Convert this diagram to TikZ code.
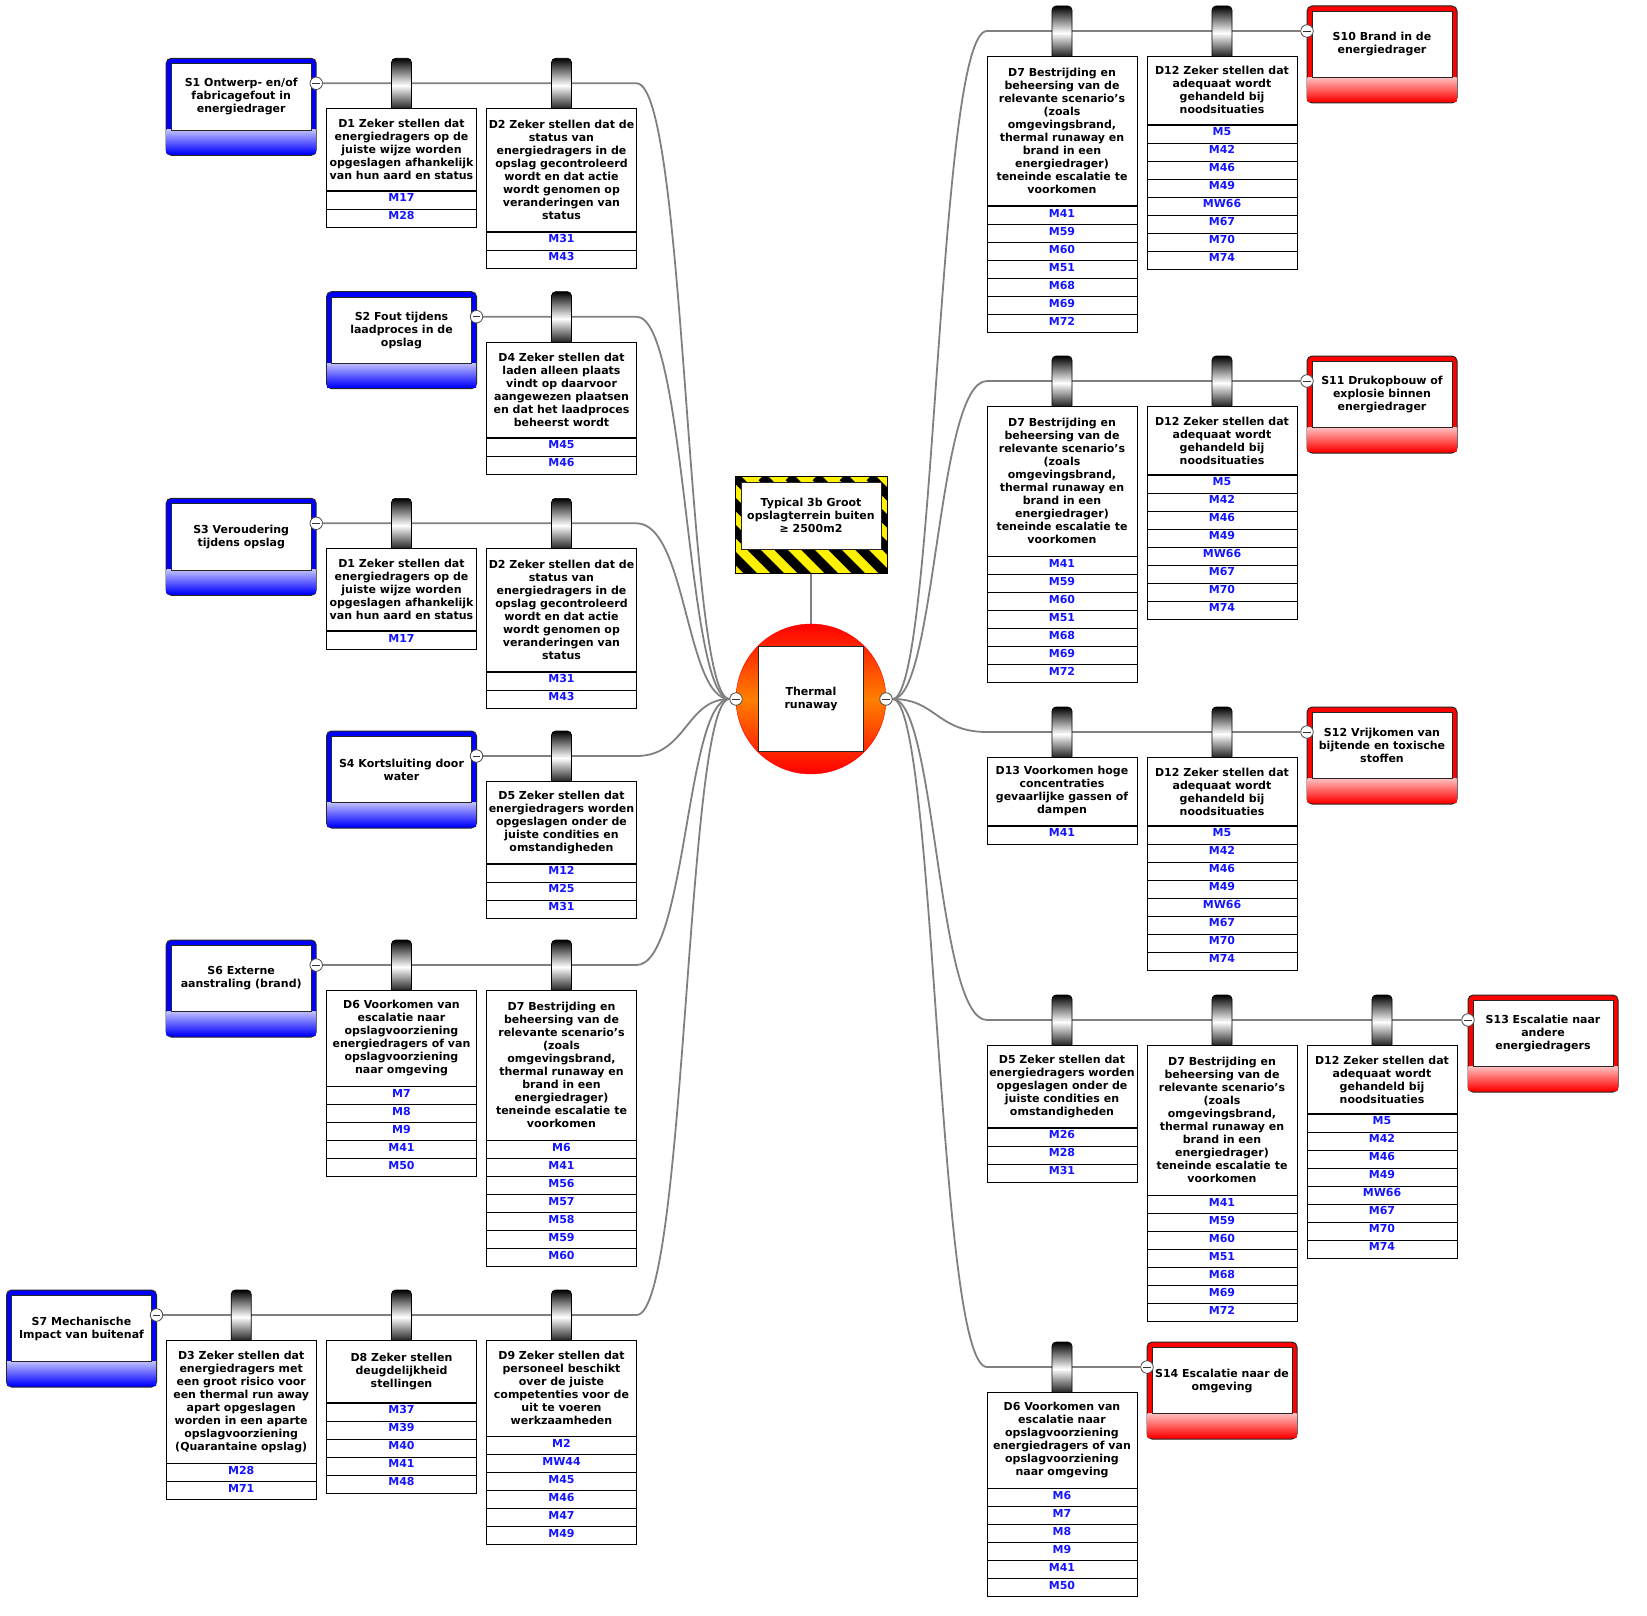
\documentclass[tikz,border=0pt]{standalone}
\usepackage{fontspec}
\setmainfont{DejaVu Sans}
\usetikzlibrary{positioning,backgrounds}
\usepackage{xcolor}
\definecolor{mblue}{RGB}{20,20,255}
\newcommand{\bowfont}{\fontsize{11}{13}\selectfont\bfseries}

\begin{document}
\begin{tikzpicture}[x=1pt,y=-1pt]
      \tikzstyle{conn} = [draw=black!50, line width=1.8pt]
      \tikzstyle{cause} = [rectangle, rounded corners=5pt, draw=black!85, line width=1pt, fill=blue, minimum width=150pt, minimum height=97pt]
      \tikzstyle{conseq} = [rectangle, rounded corners=5pt, draw=black!85, line width=1pt, fill=red, minimum width=150pt, minimum height=97pt]
      \tikzstyle{causefade} = [top color=blue!25, bottom color=blue]
      \tikzstyle{conseqfade} = [top color=red!25, bottom color=red]
      \tikzstyle{stext} = [rectangle, draw=black!85, line width=0.8pt, fill=white, minimum width=140pt, minimum height=66.5pt, inner sep=1pt, align=center, font=\bowfont]
      \tikzstyle{hazard} = [rectangle, draw=black, line width=1pt, fill=yellow, minimum width=152pt, minimum height=97pt, path picture={\foreach \k in {-4,...,6} \draw[black, line width=9.5pt] ([xshift=\k*27pt]path picture bounding box.north west) -- ([xshift=\k*27pt+110pt, yshift=-110pt]path picture bounding box.north west);}]
      \tikzstyle{topevent} = [circle, draw=red, minimum size=150pt, top color=red, bottom color=red, middle color=orange]
      \tikzstyle{tetext} = [rectangle, draw=black!85, line width=0.8pt, fill=white, minimum size=105pt, align=center, font=\bowfont]
      \tikzstyle{minus} = [circle, draw=black!70, fill=white, line width=0.8pt, minimum size=12.5pt, inner sep=0pt, path picture={\draw[black!80, line width=0.8pt] ([xshift=2.5pt]path picture bounding box.west) -- ([xshift=-2.5pt]path picture bounding box.east);}]
      \tikzstyle{clamp} = [rectangle, rounded corners=4pt, draw=black, line width=0.6pt, minimum width=20pt, minimum height=54pt, inner sep=0pt, top color=black, bottom color=black, middle color=white]
      \tikzstyle{dbox} = [rectangle, draw=black, line width=0.8pt, fill=white, minimum width=150pt, inner xsep=0pt, inner ysep=2pt, align=center, anchor=north, font=\bowfont]
      \tikzstyle{mrow} = [rectangle, draw=black, line width=0.8pt, fill=white, minimum width=150pt, inner xsep=0pt, inner ysep=2.5pt, text height=8pt, text depth=5pt, anchor=north, text=mblue, font=\bowfont]

      \useasboundingbox (0,0) rectangle (1647,1616);

      % top event and hazard
      \node[hazard] (hz) at (811,525.3) {};
      \node[stext] (hzt) at (811,515.8) {Typical 3b Groot\\opslagterrein buiten\\≥ 2500m2};
      \node[topevent] (te) at (811,699) {};
      \node[tetext] (tet) at (811,699) {Thermal\\runaway};
      \node[minus] (tl) at (736,699) {};
      \node[minus] (tr) at (886,699) {};

      % S1
      \node[cause] (s1) at (241.2,106.8) {};
      \shade[causefade] ([xshift=1pt,yshift=2pt]s1.south west) rectangle ([xshift=-1pt,yshift=26pt]s1.south east);
      \node[stext] (s1t) at (241.2,96.8) {S1 Ontwerp- en/of\\fabricagefout in\\energiedrager};
      \node[minus] (s1m) at (316.2,83.3) {};
      \node[clamp] (l1d1c) at (401.5,85.3) {};
      \node[dbox, minimum height=82pt] (l1d1) at (401.5,108.3) {D1 Zeker stellen dat\\energiedragers op de\\juiste wijze worden\\opgeslagen afhankelijk\\van hun aard en status};
      \foreach \m [count=\i] in {M17,M28}
        \node[mrow] (l1d1m\i) at ([yshift={-18pt*(\i-1)}]l1d1.south) {\m};
      \node[clamp] (l1d2c) at (561.5,85.3) {};
      \node[dbox, minimum height=122.5pt] (l1d2) at (561.5,108.3) {D2 Zeker stellen dat de\\status van\\energiedragers in de\\opslag gecontroleerd\\wordt en dat actie\\wordt genomen op\\veranderingen van\\status};
      \foreach \m [count=\i] in {M31,M43}
        \node[mrow] (l1d2m\i) at ([yshift={-18pt*(\i-1)}]l1d2.south) {\m};
      \coordinate (l1e) at (636.5,83.3);

      % S2
      \node[cause] (s2) at (401.5,340.2) {};
      \shade[causefade] ([xshift=1pt,yshift=2pt]s2.south west) rectangle ([xshift=-1pt,yshift=26pt]s2.south east);
      \node[stext] (s2t) at (401.5,330.2) {S2 Fout tijdens\\laadproces in de\\opslag};
      \node[minus] (s2m) at (476.5,316.7) {};
      \node[clamp] (l2d4c) at (561.5,318.7) {};
      \node[dbox, minimum height=95.5pt] (l2d4) at (561.5,341.7) {D4 Zeker stellen dat\\laden alleen plaats\\vindt op daarvoor\\aangewezen plaatsen\\en dat het laadproces\\beheerst wordt};
      \foreach \m [count=\i] in {M45,M46}
        \node[mrow] (l2d4m\i) at ([yshift={-18pt*(\i-1)}]l2d4.south) {\m};
      \coordinate (l2e) at (636.5,316.7);

      % S3
      \node[cause] (s3) at (241.2,546.8) {};
      \shade[causefade] ([xshift=1pt,yshift=2pt]s3.south west) rectangle ([xshift=-1pt,yshift=26pt]s3.south east);
      \node[stext] (s3t) at (241.2,536.8) {S3 Veroudering\\tijdens opslag};
      \node[minus] (s3m) at (316.2,523.3) {};
      \node[clamp] (l3d1c) at (401.5,525.3) {};
      \node[dbox, minimum height=82pt] (l3d1) at (401.5,548.3) {D1 Zeker stellen dat\\energiedragers op de\\juiste wijze worden\\opgeslagen afhankelijk\\van hun aard en status};
      \foreach \m [count=\i] in {M17}
        \node[mrow] (l3d1m\i) at ([yshift={-18pt*(\i-1)}]l3d1.south) {\m};
      \node[clamp] (l3d2c) at (561.5,525.3) {};
      \node[dbox, minimum height=122.5pt] (l3d2) at (561.5,548.3) {D2 Zeker stellen dat de\\status van\\energiedragers in de\\opslag gecontroleerd\\wordt en dat actie\\wordt genomen op\\veranderingen van\\status};
      \foreach \m [count=\i] in {M31,M43}
        \node[mrow] (l3d2m\i) at ([yshift={-18pt*(\i-1)}]l3d2.south) {\m};
      \coordinate (l3e) at (636.5,523.3);

      % S4
      \node[cause] (s4) at (401.5,779.5) {};
      \shade[causefade] ([xshift=1pt,yshift=2pt]s4.south west) rectangle ([xshift=-1pt,yshift=26pt]s4.south east);
      \node[stext] (s4t) at (401.5,769.5) {S4 Kortsluiting door\\water};
      \node[minus] (s4m) at (476.5,756) {};
      \node[clamp] (l4d5c) at (561.5,758) {};
      \node[dbox, minimum height=82pt] (l4d5) at (561.5,781) {D5 Zeker stellen dat\\energiedragers worden\\opgeslagen onder de\\juiste condities en\\omstandigheden};
      \foreach \m [count=\i] in {M12,M25,M31}
        \node[mrow] (l4d5m\i) at ([yshift={-18pt*(\i-1)}]l4d5.south) {\m};
      \coordinate (l4e) at (636.5,756);

      % S6
      \node[cause] (s6) at (241.2,988.5) {};
      \shade[causefade] ([xshift=1pt,yshift=2pt]s6.south west) rectangle ([xshift=-1pt,yshift=26pt]s6.south east);
      \node[stext] (s6t) at (241.2,978.5) {S6 Externe\\aanstraling (brand)};
      \node[minus] (s6m) at (316.2,965) {};
      \node[clamp] (l5d6c) at (401.5,967) {};
      \node[dbox, minimum height=95.5pt] (l5d6) at (401.5,990) {D6 Voorkomen van\\escalatie naar\\opslagvoorziening\\energiedragers of van\\opslagvoorziening\\naar omgeving};
      \foreach \m [count=\i] in {M7,M8,M9,M41,M50}
        \node[mrow] (l5d6m\i) at ([yshift={-18pt*(\i-1)}]l5d6.south) {\m};
      \node[clamp] (l5d7c) at (561.5,967) {};
      \node[dbox, minimum height=149.5pt] (l5d7) at (561.5,990) {D7 Bestrijding en\\beheersing van de\\relevante scenario’s\\(zoals\\omgevingsbrand,\\thermal runaway en\\brand in een\\energiedrager)\\teneinde escalatie te\\voorkomen};
      \foreach \m [count=\i] in {M6,M41,M56,M57,M58,M59,M60}
        \node[mrow] (l5d7m\i) at ([yshift={-18pt*(\i-1)}]l5d7.south) {\m};
      \coordinate (l5e) at (636.5,965);

      % S7
      \node[cause] (s7) at (81.5,1338.5) {};
      \shade[causefade] ([xshift=1pt,yshift=2pt]s7.south west) rectangle ([xshift=-1pt,yshift=26pt]s7.south east);
      \node[stext] (s7t) at (81.5,1328.5) {S7 Mechanische\\Impact van buitenaf};
      \node[minus] (s7m) at (156.5,1315) {};
      \node[clamp] (l6d3c) at (241.2,1317) {};
      \node[dbox, minimum height=122.5pt] (l6d3) at (241.2,1340) {D3 Zeker stellen dat\\energiedragers met\\een groot risico voor\\een thermal run away\\apart opgeslagen\\worden in een aparte\\opslagvoorziening\\(Quarantaine opslag)};
      \foreach \m [count=\i] in {M28,M71}
        \node[mrow] (l6d3m\i) at ([yshift={-18pt*(\i-1)}]l6d3.south) {\m};
      \node[clamp] (l6d8c) at (401.5,1317) {};
      \node[dbox, minimum height=62pt] (l6d8) at (401.5,1340) {D8 Zeker stellen\\deugdelijkheid\\stellingen};
      \foreach \m [count=\i] in {M37,M39,M40,M41,M48}
        \node[mrow] (l6d8m\i) at ([yshift={-18pt*(\i-1)}]l6d8.south) {\m};
      \node[clamp] (l6d9c) at (561.5,1317) {};
      \node[dbox, minimum height=95.5pt] (l6d9) at (561.5,1340) {D9 Zeker stellen dat\\personeel beschikt\\over de juiste\\competenties voor de\\uit te voeren\\werkzaamheden};
      \foreach \m [count=\i] in {M2,MW44,M45,M46,M47,M49}
        \node[mrow] (l6d9m\i) at ([yshift={-18pt*(\i-1)}]l6d9.south) {\m};
      \coordinate (l6e) at (636.5,1315);

      % S10
      \node[clamp] (r1d7c) at (1062,33) {};
      \node[dbox, minimum height=149.5pt] (r1d7) at (1062,56) {D7 Bestrijding en\\beheersing van de\\relevante scenario’s\\(zoals\\omgevingsbrand,\\thermal runaway en\\brand in een\\energiedrager)\\teneinde escalatie te\\voorkomen};
      \foreach \m [count=\i] in {M41,M59,M60,M51,M68,M69,M72}
        \node[mrow] (r1d7m\i) at ([yshift={-18pt*(\i-1)}]r1d7.south) {\m};
      \node[clamp] (r1d12c) at (1222,33) {};
      \node[dbox, minimum height=68pt] (r1d12) at (1222,56) {D12 Zeker stellen dat\\adequaat wordt\\gehandeld bij\\noodsituaties};
      \foreach \m [count=\i] in {M5,M42,M46,M49,MW66,M67,M70,M74}
        \node[mrow] (r1d12m\i) at ([yshift={-18pt*(\i-1)}]r1d12.south) {\m};
      \node[conseq] (s10) at (1382,54.5) {};
      \shade[conseqfade] ([xshift=1pt,yshift=2pt]s10.south west) rectangle ([xshift=-1pt,yshift=26pt]s10.south east);
      \node[stext] (s10t) at (1382,44.5) {S10 Brand in de\\energiedrager};
      \node[minus] (s10m) at (1307,31) {};
      \coordinate (r1e) at (987,31);

      % S11
      \node[clamp] (r2d7c) at (1062,383) {};
      \node[dbox, minimum height=149.5pt] (r2d7) at (1062,406) {D7 Bestrijding en\\beheersing van de\\relevante scenario’s\\(zoals\\omgevingsbrand,\\thermal runaway en\\brand in een\\energiedrager)\\teneinde escalatie te\\voorkomen};
      \foreach \m [count=\i] in {M41,M59,M60,M51,M68,M69,M72}
        \node[mrow] (r2d7m\i) at ([yshift={-18pt*(\i-1)}]r2d7.south) {\m};
      \node[clamp] (r2d12c) at (1222,383) {};
      \node[dbox, minimum height=68pt] (r2d12) at (1222,406) {D12 Zeker stellen dat\\adequaat wordt\\gehandeld bij\\noodsituaties};
      \foreach \m [count=\i] in {M5,M42,M46,M49,MW66,M67,M70,M74}
        \node[mrow] (r2d12m\i) at ([yshift={-18pt*(\i-1)}]r2d12.south) {\m};
      \node[conseq] (s11) at (1382,404.5) {};
      \shade[conseqfade] ([xshift=1pt,yshift=2pt]s11.south west) rectangle ([xshift=-1pt,yshift=26pt]s11.south east);
      \node[stext] (s11t) at (1382,394.5) {S11 Drukopbouw of\\explosie binnen\\energiedrager};
      \node[minus] (s11m) at (1307,381) {};
      \coordinate (r2e) at (987,381);

      % S12
      \node[clamp] (r3d13c) at (1062,734) {};
      \node[dbox, minimum height=68pt] (r3d13) at (1062,757) {D13 Voorkomen hoge\\concentraties\\gevaarlijke gassen of\\dampen};
      \foreach \m [count=\i] in {M41}
        \node[mrow] (r3d13m\i) at ([yshift={-18pt*(\i-1)}]r3d13.south) {\m};
      \node[clamp] (r3d12c) at (1222,734) {};
      \node[dbox, minimum height=68pt] (r3d12) at (1222,757) {D12 Zeker stellen dat\\adequaat wordt\\gehandeld bij\\noodsituaties};
      \foreach \m [count=\i] in {M5,M42,M46,M49,MW66,M67,M70,M74}
        \node[mrow] (r3d12m\i) at ([yshift={-18pt*(\i-1)}]r3d12.south) {\m};
      \node[conseq] (s12) at (1382,755.5) {};
      \shade[conseqfade] ([xshift=1pt,yshift=2pt]s12.south west) rectangle ([xshift=-1pt,yshift=26pt]s12.south east);
      \node[stext] (s12t) at (1382,745.5) {S12 Vrijkomen van\\bijtende en toxische\\stoffen};
      \node[minus] (s12m) at (1307,732) {};
      \coordinate (r3e) at (987,732);

      % S13
      \node[clamp] (r4d5c) at (1062,1022) {};
      \node[dbox, minimum height=82pt] (r4d5) at (1062,1045) {D5 Zeker stellen dat\\energiedragers worden\\opgeslagen onder de\\juiste condities en\\omstandigheden};
      \foreach \m [count=\i] in {M26,M28,M31}
        \node[mrow] (r4d5m\i) at ([yshift={-18pt*(\i-1)}]r4d5.south) {\m};
      \node[clamp] (r4d7c) at (1222,1022) {};
      \node[dbox, minimum height=149.5pt] (r4d7) at (1222,1045) {D7 Bestrijding en\\beheersing van de\\relevante scenario’s\\(zoals\\omgevingsbrand,\\thermal runaway en\\brand in een\\energiedrager)\\teneinde escalatie te\\voorkomen};
      \foreach \m [count=\i] in {M41,M59,M60,M51,M68,M69,M72}
        \node[mrow] (r4d7m\i) at ([yshift={-18pt*(\i-1)}]r4d7.south) {\m};
      \node[clamp] (r4d12c) at (1382,1022) {};
      \node[dbox, minimum height=68pt] (r4d12) at (1382,1045) {D12 Zeker stellen dat\\adequaat wordt\\gehandeld bij\\noodsituaties};
      \foreach \m [count=\i] in {M5,M42,M46,M49,MW66,M67,M70,M74}
        \node[mrow] (r4d12m\i) at ([yshift={-18pt*(\i-1)}]r4d12.south) {\m};
      \node[conseq] (s13) at (1543,1043.5) {};
      \shade[conseqfade] ([xshift=1pt,yshift=2pt]s13.south west) rectangle ([xshift=-1pt,yshift=26pt]s13.south east);
      \node[stext] (s13t) at (1543,1033.5) {S13 Escalatie naar\\andere\\energiedragers};
      \node[minus] (s13m) at (1468,1020) {};
      \coordinate (r4e) at (987,1020);

      % S14
      \node[clamp] (r5d6c) at (1062,1369) {};
      \node[dbox, minimum height=95.5pt] (r5d6) at (1062,1392) {D6 Voorkomen van\\escalatie naar\\opslagvoorziening\\energiedragers of van\\opslagvoorziening\\naar omgeving};
      \foreach \m [count=\i] in {M6,M7,M8,M9,M41,M50}
        \node[mrow] (r5d6m\i) at ([yshift={-18pt*(\i-1)}]r5d6.south) {\m};
      \node[conseq] (s14) at (1222,1390.5) {};
      \shade[conseqfade] ([xshift=1pt,yshift=2pt]s14.south west) rectangle ([xshift=-1pt,yshift=26pt]s14.south east);
      \node[stext] (s14t) at (1222,1380.5) {S14 Escalatie naar de\\omgeving};
      \node[minus] (s14m) at (1147,1367) {};
      \coordinate (r5e) at (987,1367);

      % connectors
      \begin{scope}[on background layer]
        \fill[white] (0,0) rectangle (1647,1616);
        \draw[conn] (hz) -- (te);
        \draw[conn] (s1m) -- (l1e) .. controls +(50,0) and +(-50,0) .. (tl);
        \draw[conn] (s2m) -- (l2e) .. controls +(50,0) and +(-50,0) .. (tl);
        \draw[conn] (s3m) -- (l3e) .. controls +(50,0) and +(-50,0) .. (tl);
        \draw[conn] (s4m) -- (l4e) .. controls +(50,0) and +(-50,0) .. (tl);
        \draw[conn] (s6m) -- (l5e) .. controls +(50,0) and +(-50,0) .. (tl);
        \draw[conn] (s7m) -- (l6e) .. controls +(50,0) and +(-50,0) .. (tl);
        \draw[conn] (tr) .. controls +(50,0) and +(-50,0) .. (r1e) -- (s10m);
        \draw[conn] (tr) .. controls +(50,0) and +(-50,0) .. (r2e) -- (s11m);
        \draw[conn] (tr) .. controls +(50,0) and +(-50,0) .. (r3e) -- (s12m);
        \draw[conn] (tr) .. controls +(50,0) and +(-50,0) .. (r4e) -- (s13m);
        \draw[conn] (tr) .. controls +(50,0) and +(-50,0) .. (r5e) -- (s14m);
      \end{scope}
    \end{tikzpicture}
\end{document}
